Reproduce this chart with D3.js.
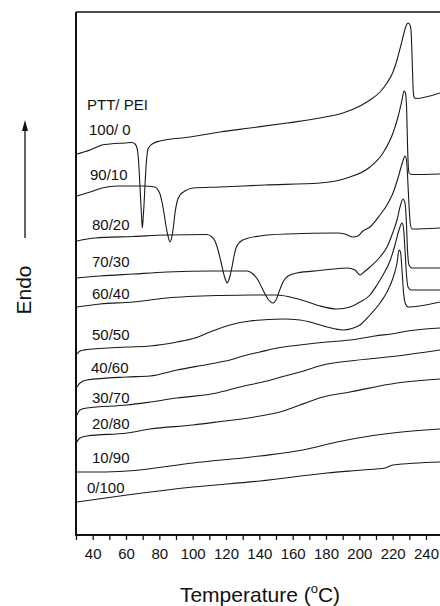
<!DOCTYPE html>
<html><head><meta charset="utf-8">
<script src="https://cdn.jsdelivr.net/npm/d3@7"></script>
<style>html,body{margin:0;padding:0;background:#fff;overflow:hidden}</style>
</head><body><svg id="chart" width="440" height="606"></svg>
<script>
// ---- data (temperature °C, heat flow a.u., endo up) ----
const compositions = ["100/ 0","90/10","80/20","70/30","60/40","50/50","40/60","30/70","20/80","10/90","0/100"];
const legendTitle = "PTT/ PEI";
const xTickValues = [30,40,50,60,70,80,90,100,110,120,130,140,150,160,170,180,190,200,210,220,230,240,250];
const xTickLabels = [40,60,80,100,120,140,160,180,200,220,240];

const c100_0 = [[30.6,38.1],[38.4,38.5],[42.6,38.8],[45.6,39.0],[50.4,39.1],[59.4,39.2],[63.6,39.25],[65.4,39.1],[66.6,38.7],[67.5,37.5],[68.4,34.8],[69.3,32.0],[69.8,30.7],[70.3,31.7],[70.8,33.0],[71.4,35.0],[72.0,36.8],[72.6,38.0],[73.2,38.6],[74.4,38.9],[76.2,39.15],[80.4,39.4],[98.4,39.8],[116.4,40.3],[134.4,40.7],[156.6,41.2],[176.4,41.7],[190.2,42.2],[200.4,42.9],[206.4,43.5],[212.4,44.3],[216.6,45.2],[220.2,46.3],[222.6,47.5],[225.0,49.0],[226.8,50.2],[228.0,50.9],[229.2,51.2],[230.1,51.1],[231.0,50.5],[231.5,48.5],[231.9,46.5],[232.3,44.5],[232.8,43.8],[233.7,43.65],[248.4,44.2]];
const c90_10 = [[30.6,33.9],[38.4,34.3],[45.6,34.7],[55.2,34.9],[70.2,34.9],[77.4,34.8],[79.2,34.5],[80.4,34.1],[81.6,33.3],[82.8,32.2],[84.0,30.9],[85.2,29.9],[86.4,29.3],[87.6,29.9],[88.5,30.9],[89.4,32.2],[90.6,33.3],[92.4,34.0],[95.4,34.4],[100.2,34.7],[116.4,34.8],[143.4,35.0],[176.4,35.2],[192.6,35.7],[206.4,36.8],[214.2,38.2],[220.2,40.2],[223.2,41.8],[225.6,43.5],[226.8,44.4],[227.7,44.2],[228.4,42.5],[229.0,38.5],[229.8,36.2],[231.4,36.05],[248.4,36.1]];
const c80_20 = [[30.6,29.4],[41.4,29.7],[64.2,29.85],[84.6,30.0],[108.6,30.05],[111.6,29.8],[113.4,29.4],[115.2,28.5],[117.0,27.3],[118.8,26.0],[120.0,25.4],[120.6,25.2],[121.5,25.4],[122.4,25.9],[123.6,26.8],[124.8,27.9],[126.0,28.7],[128.4,29.3],[132.6,29.65],[140.4,29.9],[156.6,30.1],[186.6,30.2],[191.4,30.1],[196.2,29.8],[199.2,29.9],[202.2,30.4],[206.4,30.8],[212.4,32.0],[216.6,33.0],[220.2,34.2],[223.2,35.7],[225.6,37.1],[227.4,37.9],[228.3,37.5],[228.9,36.0],[229.8,33.0],[230.6,31.1],[231.6,30.6],[248.4,30.7]];
const c70_30 = [[30.6,25.7],[44.4,25.9],[64.2,26.1],[84.6,26.3],[112.2,26.4],[132.6,26.4],[136.2,26.1],[139.2,25.5],[142.2,24.5],[145.2,23.6],[148.2,23.2],[150.0,23.5],[151.8,24.3],[154.2,25.3],[157.2,25.9],[162.6,26.2],[176.4,26.45],[192.6,26.7],[197.4,26.5],[200.4,26.0],[202.8,26.3],[206.4,26.8],[212.4,27.8],[216.6,28.8],[220.2,30.3],[222.6,31.5],[224.4,32.8],[226.2,33.6],[227.4,33.2],[228.3,31.0],[228.9,28.5],[229.8,27.0],[231.6,26.7],[248.4,26.7]];
const c60_40 = [[30.6,22.8],[44.4,23.1],[64.2,23.3],[84.6,23.7],[116.4,23.95],[136.2,24.0],[150.6,24.0],[158.4,23.8],[167.4,23.4],[176.4,22.9],[186.6,22.6],[194.4,22.8],[200.4,23.3],[206.4,24.0],[210.6,25.0],[214.2,26.0],[218.4,27.4],[221.4,29.0],[223.8,30.5],[225.6,31.2],[226.5,30.7],[227.4,28.5],[228.3,26.0],[229.2,24.8],[231.0,24.5],[248.4,24.5]];
const c50_50 = [[30.6,18.1],[32.4,18.4],[36.6,18.55],[60.6,18.8],[74.4,18.9],[90.6,19.3],[101.4,19.7],[110.4,20.3],[122.4,21.0],[134.4,21.4],[154.2,21.6],[164.4,21.5],[170.4,21.3],[180.6,20.8],[190.2,20.5],[195.6,20.65],[200.4,21.0],[206.4,22.0],[212.4,23.2],[216.6,24.3],[220.2,25.7],[222.6,27.2],[223.8,28.5],[224.7,28.3],[225.6,26.5],[226.5,24.3],[227.7,23.1],[229.2,22.8],[248.4,23.3]];
const c40_60 = [[30.6,14.8],[32.4,15.2],[36.6,15.5],[60.6,15.8],[74.4,15.9],[90.6,16.5],[110.4,17.1],[122.4,17.5],[130.2,17.9],[140.4,18.3],[150.6,18.7],[164.4,19.0],[180.6,19.3],[194.4,19.5],[209.4,19.9],[222.6,20.2],[225.6,20.3],[248.4,20.7]];
const c30_70 = [[30.6,12.0],[32.4,12.5],[36.6,12.7],[60.6,13.0],[74.4,13.3],[90.6,13.7],[114.6,14.2],[128.4,14.8],[144.6,15.4],[155.4,15.9],[164.4,16.3],[180.6,17.1],[194.4,17.4],[222.6,17.9],[248.4,18.5]];
const c20_80 = [[30.6,9.3],[32.4,9.7],[36.6,9.9],[60.6,10.2],[74.4,10.6],[100.2,11.0],[114.6,11.3],[140.4,11.9],[152.4,12.3],[164.4,13.0],[178.2,13.8],[194.4,14.3],[222.6,15.2],[248.4,15.6]];
const c10_90 = [[30.6,6.3],[44.4,6.3],[60.6,6.4],[100.2,7.2],[140.4,7.9],[166.2,8.5],[186.6,9.3],[206.4,9.9],[220.2,10.2],[248.4,10.6]];
const c0_100 = [[30.6,3.3],[60.6,4.0],[100.2,4.8],[140.4,5.4],[180.6,6.2],[201.8,6.5],[215.4,6.7],[220.2,7.0],[248.4,7.3]];

const curves = [c100_0,c90_10,c80_20,c70_30,c60_40,c50_50,c40_60,c30_70,c20_80,c10_90,c0_100];

// ---- layout ----
const svg = d3.select("#chart");
const mLeft = 76, mTop = 12, mBottom = 535, mRight = 440;
const x = d3.scaleLinear().domain([30, 250]).range([mLeft, mLeft + 220 * 5 / 3]);
const y = d3.scaleLinear().domain([0, 52.3]).range([mBottom, mTop]);
const font = "'Liberation Sans', Arial, Helvetica, sans-serif";

svg.append("defs").append("clipPath").attr("id","clip")
  .append("rect").attr("x", mLeft).attr("y", mTop).attr("width", mRight - mLeft).attr("height", mBottom - mTop);

const line = d3.line().x(d => x(d[0])).y(d => y(d[1])).curve(d3.curveMonotoneX);
const g = svg.append("g").attr("clip-path","url(#clip)");
g.selectAll("path.curve").data(curves).join("path")
  .attr("class","curve").attr("d", line)
  .attr("fill","none").attr("stroke","#1a1a1a").attr("stroke-width",1.1);

// labels
const labelPos = [[89,135],[90,180],[92,230],[92,267],[92,299],[92,340],[91,373],[92,403],[92,429],[92,463],[87,493]];
svg.append("text").attr("x",87).attr("y",110).text(legendTitle)
  .attr("font-family",font).attr("font-size",15).attr("fill","#111");
svg.selectAll("text.lab").data(compositions).join("text").attr("class","lab")
  .attr("x",(d,i)=>labelPos[i][0]).attr("y",(d,i)=>labelPos[i][1]).text(d=>d)
  .attr("font-family",font).attr("font-size",15).attr("fill","#111");

// x axis
const xAxis = d3.axisBottom(x).tickValues(xTickValues)
  .tickFormat(d => xTickLabels.includes(d) ? d : "")
  .tickSizeInner(5).tickSizeOuter(0).tickPadding(8);
const ax = svg.append("g").attr("transform",`translate(0,${mBottom})`).call(xAxis);
ax.select(".domain").remove();
ax.selectAll(".tick line").attr("stroke","#111").attr("stroke-width",1.3);
ax.selectAll(".tick text").attr("font-family",font).attr("font-size",15).attr("fill","#111");
svg.append("line").attr("x1",mLeft).attr("x2",mRight).attr("y1",mBottom).attr("y2",mBottom)
  .attr("stroke","#111").attr("stroke-width",2);
// left axis and top frame
svg.append("line").attr("x1",mLeft).attr("x2",mLeft).attr("y1",mTop).attr("y2",mBottom+1)
  .attr("stroke","#111").attr("stroke-width",2);
svg.append("line").attr("x1",mLeft).attr("x2",mRight).attr("y1",mTop).attr("y2",mTop)
  .attr("stroke","#111").attr("stroke-width",1.5);

// axis titles
const xt = svg.append("text").attr("x",260).attr("y",602).attr("text-anchor","middle")
  .attr("font-family",font).attr("font-size",21).attr("fill","#111");
xt.append("tspan").text("Temperature (");
xt.append("tspan").text("o").attr("font-size",13).attr("dy",-9);
xt.append("tspan").text("C)").attr("dy",9);

svg.append("text").attr("transform","translate(31,290) rotate(-90)").attr("text-anchor","middle")
  .attr("font-family",font).attr("font-size",21).attr("fill","#111").text("Endo");
// arrow
svg.append("line").attr("x1",25).attr("x2",25).attr("y1",238).attr("y2",128)
  .attr("stroke","#111").attr("stroke-width",1.3);
svg.append("path").attr("d","M25,120 L22,131 L28,131 Z").attr("fill","#111");
</script></body></html>
